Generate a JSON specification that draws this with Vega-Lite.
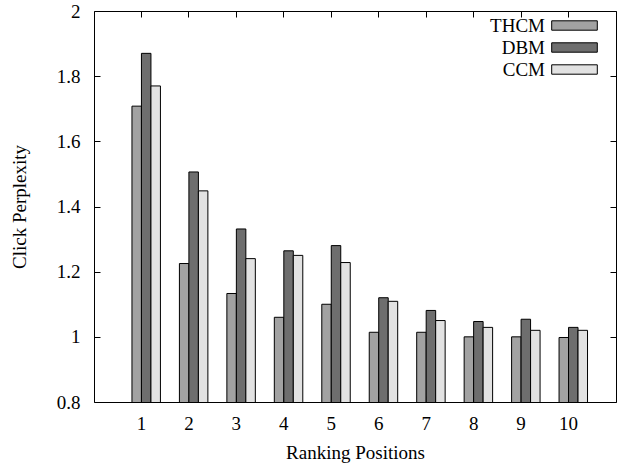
{
  "$schema": "https://vega.github.io/schema/vega-lite/v6.json",
  "width": 522,
  "height": 391,
  "autosize": {"type": "none"},
  "padding": {"left": 94, "top": 11, "right": 8, "bottom": 66},
  "background": "white",
  "config": {
    "font": "Liberation Serif",
    "view": {"stroke": "black", "strokeWidth": 1},
    "axis": {"labelFont": "Liberation Serif", "titleFont": "Liberation Serif", "labelColor": "black", "titleColor": "black", "tickColor": "black", "grid": false, "domain": false, "labelFontSize": 19, "titleFontSize": 19, "titleFontWeight": "normal"},
    "legend": {"labelFont": "Liberation Serif", "labelColor": "black"}
  },
  "data": {
    "values": [
      {"pos": 1, "model": "THCM", "value": 1.708}, {"pos": 1, "model": "DBM", "value": 1.87}, {"pos": 1, "model": "CCM", "value": 1.77},
      {"pos": 2, "model": "THCM", "value": 1.225}, {"pos": 2, "model": "DBM", "value": 1.506}, {"pos": 2, "model": "CCM", "value": 1.448},
      {"pos": 3, "model": "THCM", "value": 1.133}, {"pos": 3, "model": "DBM", "value": 1.331}, {"pos": 3, "model": "CCM", "value": 1.24},
      {"pos": 4, "model": "THCM", "value": 1.06}, {"pos": 4, "model": "DBM", "value": 1.264}, {"pos": 4, "model": "CCM", "value": 1.25},
      {"pos": 5, "model": "THCM", "value": 1.10}, {"pos": 5, "model": "DBM", "value": 1.28}, {"pos": 5, "model": "CCM", "value": 1.228},
      {"pos": 6, "model": "THCM", "value": 1.014}, {"pos": 6, "model": "DBM", "value": 1.12}, {"pos": 6, "model": "CCM", "value": 1.109},
      {"pos": 7, "model": "THCM", "value": 1.014}, {"pos": 7, "model": "DBM", "value": 1.081}, {"pos": 7, "model": "CCM", "value": 1.05},
      {"pos": 8, "model": "THCM", "value": 1.0}, {"pos": 8, "model": "DBM", "value": 1.047}, {"pos": 8, "model": "CCM", "value": 1.029},
      {"pos": 9, "model": "THCM", "value": 1.0}, {"pos": 9, "model": "DBM", "value": 1.054}, {"pos": 9, "model": "CCM", "value": 1.02},
      {"pos": 10, "model": "THCM", "value": 0.998}, {"pos": 10, "model": "DBM", "value": 1.029}, {"pos": 10, "model": "CCM", "value": 1.02}
    ]
  },
  "layer": [
    {
      "mark": {"type": "bar", "stroke": "black", "strokeWidth": 1, "clip": true},
      "encoding": {
        "x": {"field": "pos", "type": "ordinal", "scale": {"paddingInner": 0.4, "paddingOuter": 0.7},
              "axis": {"orient": "bottom", "labelAngle": 0, "tickSize": -6, "labelPadding": 18, "titlePadding": 10},
              "title": "Ranking Positions"},
        "xOffset": {"field": "model", "type": "nominal", "sort": ["THCM", "DBM", "CCM"], "scale": {"range": [4.745, 33.21], "paddingInner": 0, "paddingOuter": 0}},
        "y": {"field": "value", "type": "quantitative", "scale": {"domain": [0.8, 2], "nice": false, "zero": false},
              "axis": {"orient": "left", "values": [0.8, 1, 1.2, 1.4, 1.6, 1.8, 2], "format": "~g", "tickSize": -6, "labelPadding": 20, "titlePadding": 27},
              "title": "Click Perplexity"},
        "fill": {"field": "model", "type": "nominal", "sort": ["THCM", "DBM", "CCM"],
                 "scale": {"domain": ["THCM", "DBM", "CCM"], "range": ["#a2a2a2", "#6e6e6e", "#e2e2e2"]},
                 "legend": {"orient": "none", "legendX": 430, "legendY": 4, "title": null,
                            "symbolType": "M1.72,-0.47L6.28,-0.47L6.28,0.47L1.72,0.47Z", "symbolSize": 400,
                            "symbolStrokeColor": "black", "symbolStrokeWidth": 1,
                            "labelAlign": "right", "labelOffset": 0, "labelFontSize": 19, "rowPadding": 1}}
      }
    },
    {
      "mark": {"type": "bar", "opacity": 0},
      "encoding": {
        "x": {"field": "pos", "type": "ordinal", "axis": {"orient": "top", "labels": false, "tickSize": -6, "title": null}},
        "y": {"field": "value", "type": "quantitative", "axis": {"orient": "right", "labels": false, "tickSize": -6, "title": null, "values": [0.8, 1, 1.2, 1.4, 1.6, 1.8, 2]}}
      }
    }
  ],
  "resolve": {"axis": {"x": "independent", "y": "independent"}}
}
